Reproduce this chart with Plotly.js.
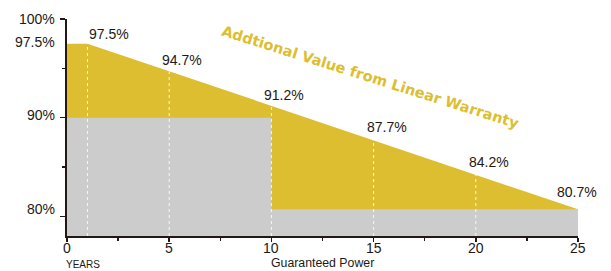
<!DOCTYPE html>
<html>
<head>
<meta charset="utf-8">
<script src="https://cdn.plot.ly/plotly-3.0.1.min.js"></script>
<style>html,body{margin:0;padding:0;background:#fff;}#chart{width:611px;height:271px;}</style>
</head>
<body>
<div id="chart"></div>
<script>
// Data
const linearYears = [0, 1, 5, 10, 15, 20, 25];
const linearPower = [97.5, 97.5, 94.7, 91.2, 87.7, 84.2, 80.7];
const stepYears = [0, 10, 10, 25];
const stepPower = [90, 90, 80.7, 80.7];
const labelYears = [1, 5, 10, 15, 20, 25];
const labelPower = [97.5, 94.7, 91.2, 87.7, 84.2, 80.7];
const yLabelVals = [100, 97.5, 90, 80];
const yLabelText = ['100%', '97.5%', '90%', '80%'];
const xTickVals = [0, 5, 10, 15, 20, 25];

const dark = '#231815';
const yellow = '#DDBE30';
const gray = '#CBCCCB';
const font = 'Liberation Sans, Arial, sans-serif';

const traces = [
  {x: linearYears, y: linearPower, type: 'scatter', mode: 'lines', fill: 'tozeroy',
   fillcolor: yellow, line: {width: 0, color: yellow}, hoverinfo: 'skip', showlegend: false},
  {x: stepYears, y: stepPower, type: 'scatter', mode: 'lines', fill: 'tozeroy',
   fillcolor: gray, line: {width: 0, color: gray}, hoverinfo: 'skip', showlegend: false}
];

const shapes = labelYears.filter(v => v < 25).map((yr, i) => ({
  type: 'line', xref: 'x', yref: 'y', x0: yr, x1: yr, y0: 78, y1: labelPower[i],
  line: {color: 'rgba(255,255,255,0.85)', width: 1, dash: 'dot'}, layer: 'above'
}));

const annotations = [];
// point labels
const pShifts = [0, 1, 1, 3, 3, 7];
labelYears.forEach((yr, i) => {
  const last = i === labelYears.length - 1;
  const first = i === 0;
  annotations.push({
    x: yr, y: labelPower[i], xref: 'x', yref: 'y', showarrow: false,
    text: labelPower[i].toFixed(1) + '%',
    xanchor: last ? 'center' : 'left', yanchor: 'bottom',
    xshift: first ? 0 : (last ? -1 : -9), yshift: pShifts[i],
    font: {family: font, size: 14, color: dark}
  });
});
// y labels
const yShifts = [0, 2, 3, 7];
yLabelVals.forEach((v, i) => {
  annotations.push({
    x: 0, y: v, xref: 'paper', yref: 'y', showarrow: false, text: yLabelText[i],
    xanchor: 'right', yanchor: 'middle', xshift: -10, yshift: yShifts[i],
    font: {family: font, size: 14, color: dark}
  });
});
// x tick labels
xTickVals.forEach(v => {
  annotations.push({
    x: v, y: 0, xref: 'x', yref: 'paper', showarrow: false, text: String(v),
    xanchor: 'center', yanchor: 'top', yshift: -3, borderpad: 0,
    font: {family: font, size: 14, color: dark}
  });
});
annotations.push({x: 0, y: 0, xref: 'x', yref: 'paper', showarrow: false, text: 'YEARS',
  xanchor: 'left', yanchor: 'bottom', xshift: -2, yshift: -35, borderpad: 0,
  font: {family: font, size: 10, color: dark}});
annotations.push({x: 10, y: 0, xref: 'x', yref: 'paper', showarrow: false, text: 'Guaranteed Power',
  xanchor: 'left', yanchor: 'bottom', xshift: -1, yshift: -35, borderpad: 0,
  font: {family: font, size: 12.3, color: dark}});

const L = 67, R = 33, T = 19, B = 35, W = 611, H = 271;
annotations.push({x: (370 - L) / (W - L - R), y: (H - B - 77) / (H - T - B),
  xref: 'paper', yref: 'paper', showarrow: false,
  text: '<b>Addtional Value from Linear Warranty</b>', textangle: 17.5,
  xanchor: 'center', yanchor: 'middle',
  font: {family: 'DejaVu Sans, Verdana, sans-serif', size: 14.5, color: yellow}});

const layout = {
  width: W, height: H,
  margin: {l: L, r: R, t: T, b: B, pad: 0},
  paper_bgcolor: '#fff', plot_bgcolor: '#fff',
  showlegend: false,
  xaxis: {range: [0, 25], showgrid: false, zeroline: false, showline: true,
    linecolor: dark, linewidth: 2, ticks: 'outside', ticklen: 4, tickwidth: 1.5, tickcolor: dark,
    tickvals: xTickVals, showticklabels: false,
    minor: {tickvals: [2.5, 7.5, 12.5, 17.5, 22.5], ticks: 'outside', ticklen: 3, tickwidth: 1.5, tickcolor: dark},
    fixedrange: true},
  yaxis: {range: [78, 100], showgrid: false, zeroline: false, showline: true,
    linecolor: dark, linewidth: 2, ticks: 'outside', ticklen: 5, tickwidth: 1.5, tickcolor: dark,
    tickvals: [80, 90, 100], showticklabels: false,
    minor: {tickvals: [85, 95], ticks: 'outside', ticklen: 3, tickwidth: 1.5, tickcolor: dark},
    fixedrange: true},
  shapes: shapes,
  annotations: annotations
};

Plotly.newPlot('chart', traces, layout, {displayModeBar: false, staticPlot: true});
</script>
</body>
</html>
